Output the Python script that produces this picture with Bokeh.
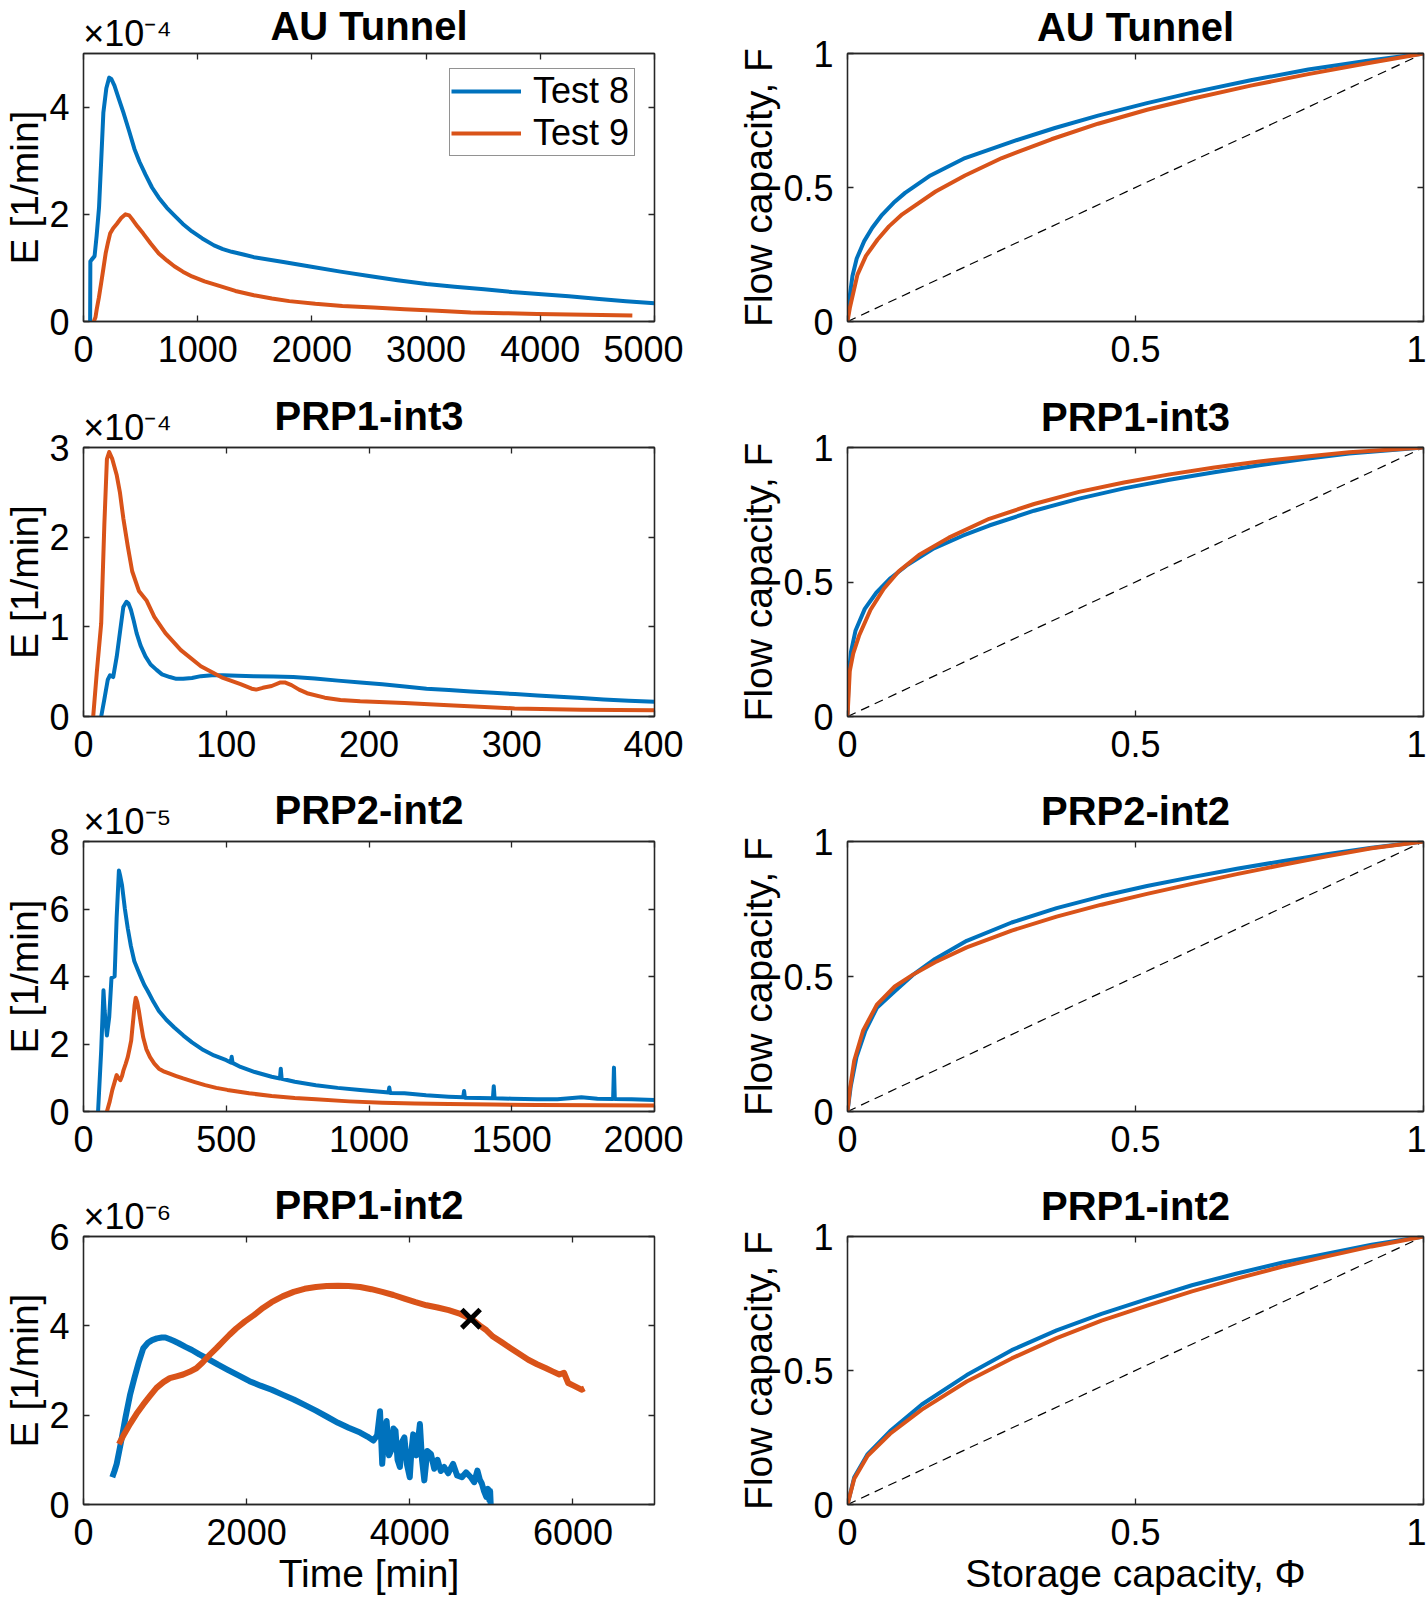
import json
from bokeh.plotting import figure
from bokeh.layouts import column, row
from bokeh.models import (LinearAxis, FixedTicker, Legend, LegendItem,
                          CustomJSTickFormatter, Range1d)
from bokeh.embed import file_html
from bokeh.resources import INLINE

BLUE = "#0072BD"
ORANGE = "#D95319"
AX = "#262626"
FONT = "Liberation Sans"

# ---------------- data ----------------
titles = ["AU Tunnel", "PRP1-int3", "PRP2-int2", "PRP1-int2"]
exponents = ["\u00d710\u207b\u2074", "\u00d710\u207b\u2074", "\u00d710\u207b\u2075", "\u00d710\u207b\u2076"]
x_ends = [5000, 400, 2000, 7000]
y_ends = [5, 3, 8, 6]
x_ticks = [[0, 1000, 2000, 3000, 4000, 5000], [0, 100, 200, 300, 400],
           [0, 500, 1000, 1500, 2000], [0, 2000, 4000, 6000]]
y_ticks = [[0, 2, 4], [0, 1, 2, 3], [0, 2, 4, 6, 8], [0, 2, 4, 6]]
lor_ticks = [0, 0.5, 1]
series_names = ["Test 8", "Test 9"]

# AU Tunnel, E in 1e-4 1/min
au8_t = [58, 60, 70, 97, 115, 136, 155, 174, 200, 225, 245, 271, 310, 349, 400, 446, 490, 543, 600,
         659, 730, 795, 870, 950, 1040, 1143, 1220, 1298, 1400, 1492, 1750, 1996, 2250, 2500, 2750,
         3004, 3250, 3508, 3750, 4012, 4250, 4516, 4750, 5000]
au8_e = [0, 1.12, 1.15, 1.22, 1.6, 2.13, 3.0, 3.9, 4.35, 4.55, 4.52, 4.4, 4.15, 3.9, 3.55, 3.22, 2.98,
         2.74, 2.5, 2.31, 2.12, 1.98, 1.82, 1.68, 1.55, 1.42, 1.35, 1.30, 1.25, 1.20, 1.11, 1.02, 0.93,
         0.85, 0.77, 0.70, 0.65, 0.60, 0.55, 0.51, 0.47, 0.42, 0.38, 0.34]
au9_t = [90, 105, 116, 135, 155, 175, 194, 215, 233, 260, 291, 330, 368, 400, 426, 470, 523, 590, 659,
         730, 795, 870, 950, 1060, 1182, 1330, 1492, 1650, 1802, 2030, 2267, 2540, 2810, 3100, 3391,
         3680, 3973, 4400, 4806]
au9_e = [0, 0.08, 0.23, 0.45, 0.72, 1.0, 1.27, 1.48, 1.64, 1.74, 1.82, 1.93, 2.0, 1.98, 1.91, 1.78,
         1.64, 1.45, 1.27, 1.14, 1.03, 0.93, 0.84, 0.75, 0.67, 0.57, 0.49, 0.43, 0.38, 0.33, 0.29, 0.26,
         0.23, 0.20, 0.17, 0.155, 0.14, 0.125, 0.11]

# PRP1-int3, E in 1e-4 1/min
p13_8_t = [12.4, 14.6, 17, 18.6, 20.8, 23.3, 25.7, 27.9, 30.1, 31.5, 33.2, 35, 37.2, 40, 43.4, 47,
           51.2, 55, 60.5, 65, 69.8, 76, 82.2, 90, 97.7, 108, 119.4, 133, 147, 162, 178.3, 194, 209.3,
           225, 240.3, 256, 271.3, 287, 302.3, 318, 333.3, 349, 364.3, 382, 400]
p13_8_e = [0, 0.19, 0.41, 0.46, 0.44, 0.67, 0.96, 1.22, 1.28, 1.26, 1.19, 1.08, 0.93, 0.79, 0.67, 0.58,
           0.52, 0.47, 0.44, 0.42, 0.42, 0.43, 0.45, 0.46, 0.46, 0.455, 0.45, 0.445, 0.44, 0.425, 0.40,
           0.38, 0.36, 0.335, 0.31, 0.295, 0.28, 0.265, 0.25, 0.235, 0.22, 0.205, 0.19, 0.175, 0.165]
p13_9_t = [6.8, 9.3, 12.4, 14.6, 16.4, 18, 20.2, 23.3, 25.5, 27.9, 31, 34.1, 38.8, 44.3, 49.6, 57.4,
           68.2, 82.2, 97.7, 110, 117.8, 121, 125.6, 131.8, 138, 141, 145.7, 151, 156.6, 169, 180, 193.8,
           224.8, 255.8, 302, 348.8, 400]
p13_9_e = [0, 0.49, 1.04, 2.14, 2.87, 2.95, 2.87, 2.69, 2.5, 2.21, 1.9, 1.62, 1.40, 1.29, 1.11, 0.93,
           0.74, 0.56, 0.43, 0.36, 0.31, 0.30, 0.32, 0.34, 0.38, 0.38, 0.35, 0.30, 0.26, 0.21, 0.185,
           0.17, 0.15, 0.125, 0.09, 0.075, 0.07]

# PRP2-int2, E in 1e-5 1/min
p22_8_t = [51, 62, 70, 74, 78, 82, 90, 98, 109, 116, 124, 128, 135, 145, 155, 166, 178, 190, 202, 213,
           225, 245, 264, 290, 318, 350, 380, 420, 457, 500, 516, 519, 522, 550, 600, 659, 688, 691,
           694, 740, 814, 890, 969, 1050, 1068, 1071, 1074, 1124, 1200, 1279, 1330, 1333, 1336, 1434,
           1437, 1440, 1500, 1589, 1660, 1744, 1800, 1855, 1858, 1861, 1920, 2000]
p22_8_e = [0, 1.81, 3.59, 3.0, 2.59, 2.25, 2.79, 3.96, 4.0, 5.72, 7.14, 7.0, 6.70, 6.0, 5.43, 4.9, 4.45,
           4.2, 3.96, 3.75, 3.57, 3.25, 2.98, 2.72, 2.49, 2.25, 2.05, 1.82, 1.66, 1.52, 1.45, 1.62, 1.44,
           1.32, 1.17, 1.03, 0.98, 1.27, 0.97, 0.88, 0.78, 0.70, 0.64, 0.58, 0.56, 0.71, 0.55, 0.54,
           0.48, 0.44, 0.42, 0.61, 0.41, 0.39, 0.75, 0.39, 0.38, 0.36, 0.36, 0.42, 0.38, 0.37, 1.30,
           0.37, 0.36, 0.34]
p22_9_t = [82, 92, 101, 110, 116, 122, 129, 135, 140, 148, 155, 161, 167, 171, 175, 179, 183, 188, 194,
           201, 209, 220, 233, 248, 264, 283, 302, 325, 349, 390, 426, 465, 504, 580, 659, 740, 814,
           930, 1047, 1160, 1279, 1430, 1589, 1800, 2000]
p22_9_e = [0, 0.3, 0.64, 0.9, 1.08, 1.0, 0.93, 1.05, 1.22, 1.42, 1.61, 1.85, 2.1, 2.45, 2.79, 3.15,
           3.37, 3.25, 2.98, 2.6, 2.2, 1.85, 1.61, 1.42, 1.27, 1.18, 1.12, 1.05, 0.98, 0.87, 0.78, 0.70,
           0.64, 0.54, 0.46, 0.40, 0.36, 0.30, 0.26, 0.24, 0.22, 0.205, 0.19, 0.185, 0.18]

# PRP1-int2, E in 1e-6 1/min
p12_8_t = [353, 380, 407, 460, 515, 570, 624, 680, 733, 790, 841, 900, 960, 1004, 1060, 1110, 1167,
           1250, 1329, 1420, 1546, 1650, 1763, 1900, 2035, 2170, 2306, 2440, 2577, 2710, 2849, 2980,
           3120, 3250, 3391, 3480, 3554, 3600, 3635, 3662, 3690, 3716, 3745, 3771, 3800, 3825, 3850,
           3879, 3905, 3934, 3965, 4000, 4020, 4042, 4080, 4124, 4150, 4178, 4215, 4259, 4300, 4340,
           4380, 4422, 4470, 4531, 4580, 4639, 4690, 4748, 4790, 4829, 4860, 4883, 4910, 4938, 4960,
           4975, 4985, 4992]
p12_8_e = [0.61, 0.75, 0.91, 1.4, 1.95, 2.45, 2.83, 3.2, 3.50, 3.62, 3.68, 3.72, 3.74, 3.74, 3.70,
           3.66, 3.61, 3.53, 3.46, 3.36, 3.24, 3.13, 3.02, 2.89, 2.76, 2.66, 2.57, 2.46, 2.35, 2.23,
           2.10, 1.97, 1.83, 1.72, 1.61, 1.52, 1.43, 1.55, 2.09, 0.91, 1.6, 1.87, 1.1, 1.21, 1.7, 1.65,
           1.0, 0.84, 1.4, 1.50, 0.9, 0.61, 1.2, 1.57, 1.1, 1.80, 1.0, 0.54, 1.2, 1.13, 0.8, 1.0, 0.75,
           0.84, 0.7, 0.91, 0.65, 0.61, 0.72, 0.61, 0.5, 0.76, 0.55, 0.47, 0.3, 0.17, 0.35, 0.1, 0.3, 0]
p12_9_t = [434, 500, 570, 650, 733, 810, 895, 980, 1058, 1140, 1221, 1300, 1384, 1460, 1546, 1630,
           1709, 1790, 1872, 1980, 2089, 2200, 2306, 2440, 2577, 2710, 2849, 2980, 3120, 3250, 3391,
           3530, 3662, 3800, 3934, 4070, 4205, 4340, 4477, 4600, 4694, 4780, 4856, 4940, 5019, 5130,
           5236, 5345, 5453, 5560, 5670, 5750, 5833, 5890, 5942, 6020, 6105, 6140]
p12_9_e = [1.35, 1.58, 1.80, 2.03, 2.24, 2.42, 2.61, 2.74, 2.83, 2.87, 2.91, 2.97, 3.05, 3.18, 3.35,
           3.50, 3.65, 3.80, 3.94, 4.10, 4.24, 4.40, 4.53, 4.66, 4.76, 4.83, 4.87, 4.89, 4.90, 4.89,
           4.87, 4.82, 4.76, 4.69, 4.61, 4.53, 4.46, 4.41, 4.35, 4.28, 4.20, 4.12, 4.01, 3.90, 3.76,
           3.63, 3.50, 3.37, 3.24, 3.14, 3.05, 2.98, 2.91, 2.95, 2.72, 2.65, 2.57, 2.6]
mark_t = [4750]
mark_e = [4.16]

# Lorenz curves (storage capacity Phi, flow capacity F)
au_phi8 = [0, 0.003, 0.0086, 0.016, 0.029, 0.043, 0.060, 0.080, 0.100, 0.144, 0.204, 0.291, 0.360,
           0.435, 0.52, 0.60, 0.70, 0.80, 0.90, 1.0]
au_F8 = [0, 0.08, 0.17, 0.235, 0.30, 0.35, 0.398, 0.443, 0.480, 0.545, 0.610, 0.675, 0.722, 0.768,
         0.815, 0.855, 0.90, 0.94, 0.972, 1.0]
au_phi9 = [0, 0.004, 0.0173, 0.032, 0.052, 0.072, 0.095, 0.153, 0.204, 0.268, 0.354, 0.435, 0.52,
           0.60, 0.70, 0.80, 0.90, 1.0]
au_F9 = [0, 0.05, 0.175, 0.245, 0.305, 0.355, 0.40, 0.485, 0.545, 0.61, 0.68, 0.738, 0.79, 0.832,
         0.88, 0.923, 0.963, 1.0]

p13_phi8 = [0, 0.002, 0.006, 0.014, 0.030, 0.050, 0.075, 0.105, 0.150, 0.200, 0.246, 0.324, 0.402,
            0.48, 0.559, 0.637, 0.715, 0.793, 0.871, 1.0]
p13_F8 = [0, 0.15, 0.24, 0.32, 0.40, 0.46, 0.515, 0.565, 0.625, 0.672, 0.71, 0.765, 0.81, 0.848, 0.88,
          0.908, 0.934, 0.957, 0.978, 1.0]
p13_phi9 = [0, 0.004, 0.010, 0.020, 0.040, 0.063, 0.089, 0.124, 0.176, 0.246, 0.324, 0.402, 0.48,
            0.559, 0.637, 0.715, 0.793, 0.871, 1.0]
p13_F9 = [0, 0.17, 0.235, 0.30, 0.397, 0.475, 0.54, 0.60, 0.665, 0.735, 0.79, 0.835, 0.87, 0.90,
          0.926, 0.948, 0.966, 0.982, 1.0]

p22_phi8 = [0, 0.0055, 0.0156, 0.031, 0.051, 0.082, 0.113, 0.152, 0.207, 0.285, 0.363, 0.441, 0.520,
            0.598, 0.676, 0.754, 0.832, 0.910, 1.0]
p22_F8 = [0, 0.091, 0.201, 0.299, 0.384, 0.445, 0.505, 0.565, 0.632, 0.70, 0.753, 0.797, 0.835, 0.868,
          0.899, 0.927, 0.953, 0.977, 1.0]
p22_phi9 = [0, 0.0039, 0.0117, 0.027, 0.051, 0.082, 0.113, 0.152, 0.207, 0.285, 0.363, 0.441, 0.520,
            0.598, 0.676, 0.754, 0.832, 0.910, 1.0]
p22_F9 = [0, 0.079, 0.189, 0.299, 0.396, 0.463, 0.506, 0.553, 0.608, 0.670, 0.722, 0.766, 0.806, 0.843,
          0.879, 0.913, 0.945, 0.975, 1.0]

p12_phi8 = [0, 0.0117, 0.035, 0.074, 0.129, 0.207, 0.285, 0.363, 0.441, 0.520, 0.598, 0.676, 0.754,
            0.832, 0.910, 1.0]
p12_F8 = [0, 0.102, 0.188, 0.274, 0.373, 0.483, 0.576, 0.650, 0.711, 0.766, 0.818, 0.862, 0.902, 0.936,
          0.969, 1.0]
p12_phi9 = [0, 0.0117, 0.035, 0.074, 0.129, 0.207, 0.285, 0.363, 0.441, 0.520, 0.598, 0.676, 0.754,
            0.832, 0.910, 1.0]
p12_F9 = [0, 0.096, 0.182, 0.264, 0.354, 0.459, 0.545, 0.621, 0.686, 0.742, 0.795, 0.843, 0.887, 0.926,
          0.963, 1.0]

diag = [0, 1]

rtd = [((au8_t, au8_e), (au9_t, au9_e)),
       ((p13_8_t, p13_8_e), (p13_9_t, p13_9_e)),
       ((p22_8_t, p22_8_e), (p22_9_t, p22_9_e)),
       ((p12_8_t, p12_8_e), (p12_9_t, p12_9_e))]
lor = [((au_phi8, au_F8), (au_phi9, au_F9)),
       ((p13_phi8, p13_F8), (p13_phi9, p13_F9)),
       ((p22_phi8, p22_F8), (p22_phi9, p22_F9)),
       ((p12_phi8, p12_F8), (p12_phi9, p12_F9))]

# ---------------- layout ----------------
ROW_TOP = [52, 63, 63, 63]
ROW_FH = [268, 269, 270, 268]
ROW_BOT = [63, 62, 62, 94]
TITLE_SO_LEFT = [-38, -34, -34, -34]
TITLE_SO_RIGHT = [5, 9, 9, 9]
L1, FW1, R1 = 83, 571, 29
L2, FW2, R2 = 164, 576, 3
EXP_SHIFT = 44          # px from frame left to centre of the x10^n text

TICK_FS = "36px"
LAB_FS = "39px"
TITLE_FS = "40px"
LW = 4


def base_axis(ax):
    ax.major_tick_in = 6
    ax.major_tick_out = 0
    ax.minor_tick_in = 6
    ax.minor_tick_out = 0
    ax.major_tick_line_color = AX
    ax.major_tick_line_width = 1.3
    ax.minor_tick_line_color = AX
    ax.minor_tick_line_width = 1.3
    ax.axis_line_color = AX
    ax.axis_line_width = 1.3
    ax.major_label_text_font = FONT
    ax.major_label_text_font_size = TICK_FS
    ax.major_label_text_color = "black"
    ax.axis_label_text_font = FONT
    ax.axis_label_text_font_size = LAB_FS
    ax.axis_label_text_font_style = "normal"
    ax.axis_label_text_color = "black"


def make_fig(i, left):
    if left:
        xr, yr = Range1d(0, x_ends[i]), Range1d(0, y_ends[i])
        fw, lb, rb = FW1, L1, R1
        xt, yt = x_ticks[i], y_ticks[i]
    else:
        xr, yr = Range1d(0, 1), Range1d(0, 1)
        fw, lb, rb = FW2, L2, R2
        xt, yt = lor_ticks, lor_ticks
    p = figure(frame_width=fw, frame_height=ROW_FH[i], x_range=xr, y_range=yr,
               min_border_left=lb, min_border_right=rb,
               min_border_top=ROW_TOP[i], min_border_bottom=ROW_BOT[i],
               output_backend="svg", toolbar_location=None, title=None)
    p.background_fill_color = "white"
    p.border_fill_color = "white"
    p.outline_line_color = AX
    p.outline_line_width = 1.3
    p.xgrid.visible = False
    p.ygrid.visible = False

    xa = p.below[0]
    ya = p.left[0]
    base_axis(xa)
    base_axis(ya)
    xa.ticker = FixedTicker(ticks=xt, minor_ticks=[])
    ya.ticker = FixedTicker(ticks=yt, minor_ticks=[])
    xa.major_label_standoff = 14
    ya.major_label_standoff = 14
    ya.axis_label_standoff = 0
    xa.axis_label_standoff = 4
    if not left:
        xa.formatter = CustomJSTickFormatter(code="return tick.toString();")
        ya.formatter = CustomJSTickFormatter(code="return tick.toString();")

    # top axis: inward ticks (as minor ticks), x10^n text (left column), title
    if left:
        ex_pos = xr.end * EXP_SHIFT / fw
        top = LinearAxis(ticker=FixedTicker(ticks=[ex_pos], minor_ticks=xt),
                         formatter=CustomJSTickFormatter(code="return %s;" % json.dumps(exponents[i])))
    else:
        top = LinearAxis(ticker=FixedTicker(ticks=[], minor_ticks=xt))
    base_axis(top)
    top.major_tick_line_color = None
    top.major_label_standoff = 0
    top.axis_label = titles[i]
    top.axis_label_text_font_style = "bold"
    top.axis_label_text_font_size = TITLE_FS
    top.axis_label_standoff = TITLE_SO_LEFT[i] if left else TITLE_SO_RIGHT[i]
    p.add_layout(top, "above")

    rgt = LinearAxis(ticker=FixedTicker(ticks=[], minor_ticks=yt))
    base_axis(rgt)
    rgt.major_label_standoff = 0
    p.add_layout(rgt, "right")
    return p, xa, ya


figs = []
for i in range(4):
    # left: residence time distribution
    pl, xa, ya = make_fig(i, True)
    (t8, e8), (t9, e9) = rtd[i]
    lw = 6 if i == 3 else LW
    r8 = pl.line(t8, e8, line_color=BLUE, line_width=lw, line_join="round")
    r9 = pl.line(t9, e9, line_color=ORANGE, line_width=lw, line_join="round")
    ya.axis_label = "E [1/min]"
    if i == 0:
        leg = Legend(items=[LegendItem(label=series_names[0], renderers=[r8]),
                            LegendItem(label=series_names[1], renderers=[r9])],
                     location=(366, 165))
        leg.margin = 0
        leg.padding = 1
        leg.spacing = 0
        leg.glyph_width = 70
        leg.glyph_height = 36
        leg.label_height = 36
        leg.label_width = 100
        leg.label_standoff = 12
        leg.label_text_font = FONT
        leg.label_text_font_size = TICK_FS
        leg.label_text_color = "black"
        leg.border_line_color = AX
        leg.border_line_width = 1.2
        leg.background_fill_alpha = 1
        pl.add_layout(leg)
    if i == 3:
        pl.scatter(mark_t, mark_e, marker="x", size=26, line_color="black", line_width=5)
        xa.axis_label = "Time [min]"

    # right: Lorenz curves
    pr, xa2, ya2 = make_fig(i, False)
    pr.line(diag, diag, line_color="black", line_width=1.2, line_dash="9 6")
    (a8, f8), (a9, f9) = lor[i]
    pr.line(a8, f8, line_color=BLUE, line_width=LW, line_join="round")
    pr.line(a9, f9, line_color=ORANGE, line_width=LW, line_join="round")
    ya2.axis_label = "Flow capacity, F"
    if i == 3:
        xa2.axis_label = "Storage capacity, \u03a6"
    figs.append(row(pl, pr))

layout = column(*figs)
open("out.html", "w").write(file_html(layout, INLINE))
